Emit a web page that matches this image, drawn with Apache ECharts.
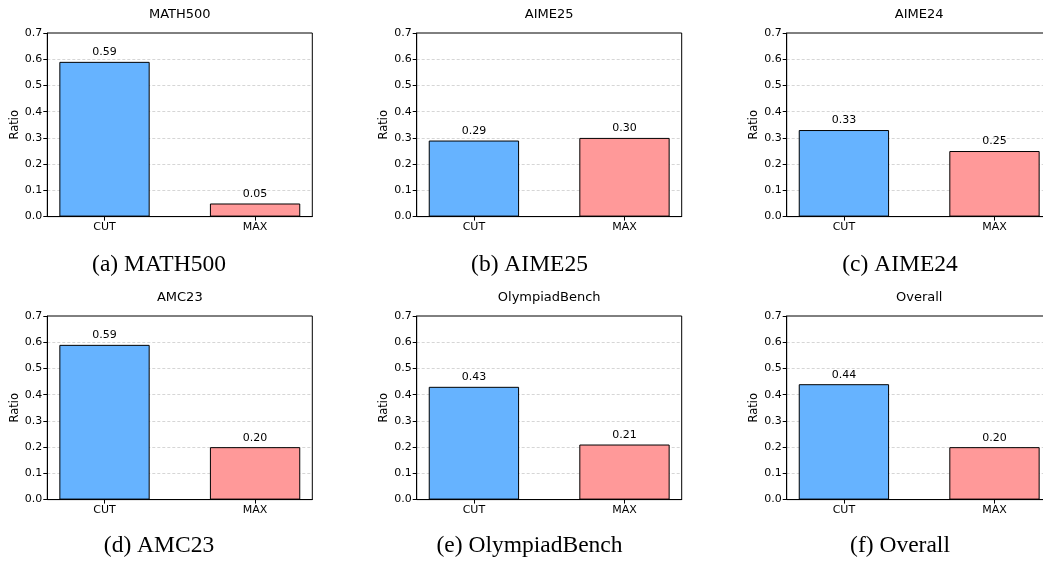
<!DOCTYPE html>
<html>
<head>
<meta charset="utf-8">
<script src="https://cdn.jsdelivr.net/npm/echarts@6/dist/echarts.min.js"></script>
<style>
html,body{margin:0;padding:0;background:#fff;}
#c{width:1043px;height:565px;}
</style>
</head>
<body>
<div id="c"></div>
<script>
// ---- data ----
const datasets = ['MATH500', 'AIME25', 'AIME24', 'AMC23', 'OlympiadBench', 'Overall'];
const captionLetters = ['a', 'b', 'c', 'd', 'e', 'f'];
const categories = ['CUT', 'MAX'];
const cutRatio = [0.59, 0.29, 0.33, 0.59, 0.43, 0.44];
const maxRatio = [0.05, 0.30, 0.25, 0.20, 0.21, 0.20];
const yMin = 0, yMax = 0.7, yStep = 0.1;

// ---- layout ----
const colLeft = [47.3, 416.7, 786.7];
const rowTop = [33, 316];
const gridW = 265, gridH = 183.6;
const captionX = [159, 529.5, 900];
const captionY = [265, 546];
const xMin = -0.38, xMax = 1.38, barUnits = 0.6;
const colors = ['#66b3ff', '#ff9999'];
const sans = 'DejaVu Sans';

const grids = [], xAxes = [], yAxes = [], series = [], titles = [];
datasets.forEach((name, i) => {
  const col = i % 3, row = Math.floor(i / 3);
  const left = colLeft[col], top = rowTop[row];
  grids.push({left: left, top: top, width: gridW, height: gridH, show: true,
    borderColor: '#000', borderWidth: 1, backgroundColor: 'transparent',
    containLabel: false, outerBoundsMode: 'none', z: 3});
  xAxes.push({type: 'value', gridIndex: i, min: xMin, max: xMax,
    axisLine: {show: true, onZero: false, lineStyle: {color: '#000', width: 1}},
    axisTick: {show: true, length: 4, customValues: [0, 1], lineStyle: {color: '#000'}},
    axisLabel: {show: true, customValues: [0, 1], formatter: v => categories[Math.round(v)] || '',
      color: '#000', fontFamily: sans, fontSize: 11, margin: 5},
    splitLine: {show: false}});
  yAxes.push({type: 'value', gridIndex: i, min: yMin, max: yMax, interval: yStep,
    name: 'Ratio', nameLocation: 'middle', nameGap: 25,
    nameTextStyle: {color: '#000', fontFamily: sans, fontSize: 11.5},
    axisLine: {show: true, onZero: false, lineStyle: {color: '#000', width: 1}},
    axisTick: {show: true, length: 4, lineStyle: {color: '#000'}},
    axisLabel: {formatter: v => v.toFixed(1), color: '#000', fontFamily: sans, fontSize: 11, margin: 5},
    splitLine: {show: true, showMaxLine: false, showMinLine: false,
      lineStyle: {color: '#cccccc', type: [3, 2], width: 0.8}}});
  const vals = [cutRatio[i], maxRatio[i]];
  series.push({type: 'bar', xAxisIndex: i, yAxisIndex: i,
    barWidth: barUnits / (xMax - xMin) * gridW,
    data: vals.map((v, k) => ({value: [k, v], itemStyle: {color: colors[k]}})),
    itemStyle: {borderColor: '#000', borderWidth: 1},
    label: {show: true, position: 'top', distance: 4, formatter: p => p.value[1].toFixed(2),
      color: '#000', fontFamily: sans, fontSize: 11},
    silent: true, animation: false});
  titles.push({text: name, left: left + gridW / 2, top: top - 25, textAlign: 'center', padding: 0,
    textStyle: {color: '#000', fontFamily: sans, fontSize: 13, fontWeight: 'normal'}});
  titles.push({text: '(' + captionLetters[i] + ') ' + name, left: captionX[col], top: captionY[row] - 12,
    textAlign: 'center', padding: 0,
    textStyle: {color: '#000', fontFamily: 'Liberation Serif', fontSize: 23.5, fontWeight: 'normal', lineHeight: 24}});
});

const chart = echarts.init(document.getElementById('c'), null, {renderer: 'canvas'});
chart.setOption({animation: false, backgroundColor: '#fff', title: titles, grid: grids,
  xAxis: xAxes, yAxis: yAxes, series: series});
</script>
</body>
</html>
